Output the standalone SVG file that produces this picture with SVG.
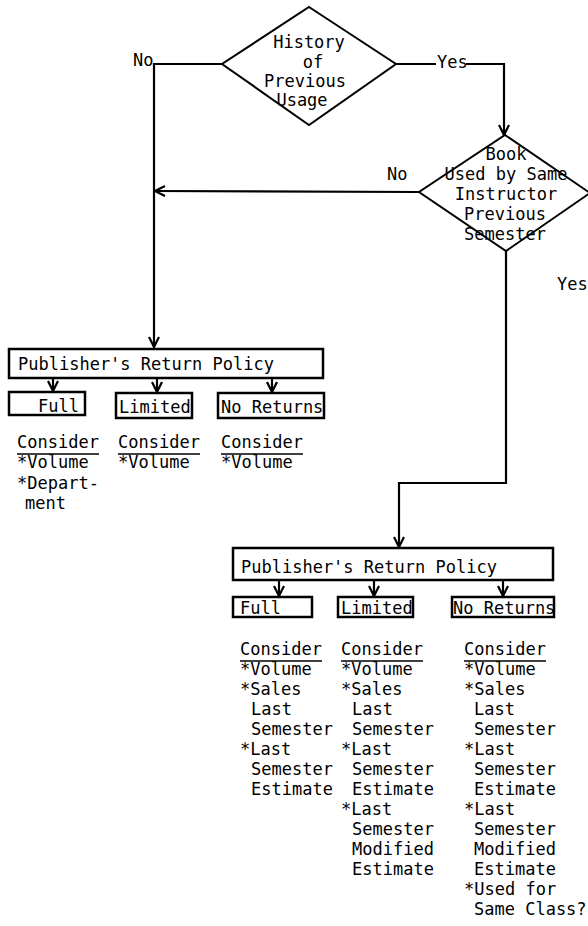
<svg xmlns="http://www.w3.org/2000/svg" width="588" height="926" viewBox="0 0 588 926">
<defs>
<marker id="arr" viewBox="0 0 12 12" refX="11" refY="6" markerWidth="12" markerHeight="12" markerUnits="userSpaceOnUse" orient="auto">
<path d="M1,1 L11,6 L1,11" fill="none" stroke="#000" stroke-width="2.2"/>
</marker>
<style>
text{font-family:"DejaVu Sans Mono","Liberation Mono",monospace;font-size:17px;fill:#000}
.mid{text-anchor:middle}
.dia{fill:#fff;stroke:#000;stroke-width:2}
.box{fill:#fff;stroke:#000;stroke-width:2.5}
.con{fill:none;stroke:#000;stroke-width:2.2}
.ul{stroke:#000;stroke-width:1.5}
</style>
</defs>
<rect width="588" height="926" fill="#fff"/>

<g id="connectors">
<path class="con" d="M222,64 L154,64 L154,347" marker-end="url(#arr)"/>
<path class="con" d="M396,64 L436,64 M466,64 L504,64 L504,135" marker-end="url(#arr)"/>
<path class="con" d="M419,192 L155,191" marker-end="url(#arr)"/>
<path class="con" d="M506,251 L506,483 L399,483 L399,547" marker-end="url(#arr)"/>
<path class="con" d="M53,378 L53,391" marker-end="url(#arr)"/>
<path class="con" d="M157,378 L157,392" marker-end="url(#arr)"/>
<path class="con" d="M272,378 L272,392" marker-end="url(#arr)"/>
<path class="con" d="M279,580 L279,596" marker-end="url(#arr)"/>
<path class="con" d="M374,580 L374,596" marker-end="url(#arr)"/>
<path class="con" d="M503,580 L503,596" marker-end="url(#arr)"/>
<text x="133" y="66">No</text>
<text x="437" y="68">Yes</text>
<text x="387" y="180">No</text>
<text x="557" y="290">Yes</text>
</g>

<g id="history">
<polygon class="dia" points="309,7 396,64 309,125 222,64"/>
<text class="mid" x="309" y="48">History</text>
<text class="mid" x="313" y="68">of</text>
<text class="mid" x="305" y="87">Previous</text>
<text class="mid" x="302" y="106">Usage</text>
</g>

<g id="sameInstructor">
<polygon class="dia" points="505,135 590,193 506,251 419,192"/>
<text class="mid" x="506" y="160">Book</text>
<text class="mid" x="506" y="180">Used by Same</text>
<text class="mid" x="506" y="200">Instructor</text>
<text class="mid" x="505" y="220">Previous</text>
<text class="mid" x="505" y="240">Semester</text>
</g>

<g id="policyLeft">
<rect class="box" x="9" y="349" width="314" height="29"/>
<text x="18" y="370">Publisher's Return Policy</text>
</g>
<g id="fullLeft">
<rect class="box" x="9" y="392" width="76" height="23"/>
<text x="38" y="412">Full</text>
</g>
<g id="limitedLeft">
<rect class="box" x="116" y="393" width="76" height="25"/>
<text x="119" y="413">Limited</text>
</g>
<g id="noReturnsLeft">
<rect class="box" x="218" y="393" width="106" height="25"/>
<text x="221" y="413">No Returns</text>
</g>

<g id="considerLeft">
<text x="17" y="448">Consider</text>
<line class="ul" x1="17" y1="454" x2="99" y2="454"/>
<text x="17" y="468">*Volume</text>
<text x="17" y="489">*Depart-</text>
<text x="25" y="509">ment</text>
<text x="118" y="448">Consider</text>
<line class="ul" x1="118" y1="454" x2="200" y2="454"/>
<text x="118" y="468">*Volume</text>
<text x="221" y="448">Consider</text>
<line class="ul" x1="221" y1="454" x2="303" y2="454"/>
<text x="221" y="468">*Volume</text>
</g>

<g id="policyBottom">
<rect class="box" x="233" y="548" width="320" height="32"/>
<text x="241" y="573">Publisher's Return Policy</text>
</g>
<g id="fullBottom">
<rect class="box" x="233" y="597" width="79" height="20"/>
<text x="240" y="614">Full</text>
</g>
<g id="limitedBottom">
<rect class="box" x="338" y="597" width="75" height="20"/>
<text x="341" y="614">Limited</text>
</g>
<g id="noReturnsBottom">
<rect class="box" x="452" y="597" width="102" height="20"/>
<text x="453" y="614">No Returns</text>
</g>

<g id="considerBottom">
<text x="240" y="655">Consider</text>
<line class="ul" x1="240" y1="661" x2="322" y2="661"/>
<text x="240" y="675">*Volume</text>
<text x="240" y="695">*Sales</text>
<text x="251" y="715">Last</text>
<text x="251" y="735">Semester</text>
<text x="240" y="755">*Last</text>
<text x="251" y="775">Semester</text>
<text x="251" y="795">Estimate</text>

<text x="341" y="655">Consider</text>
<line class="ul" x1="341" y1="661" x2="423" y2="661"/>
<text x="341" y="675">*Volume</text>
<text x="341" y="695">*Sales</text>
<text x="352" y="715">Last</text>
<text x="352" y="735">Semester</text>
<text x="341" y="755">*Last</text>
<text x="352" y="775">Semester</text>
<text x="352" y="795">Estimate</text>
<text x="341" y="815">*Last</text>
<text x="352" y="835">Semester</text>
<text x="352" y="855">Modified</text>
<text x="352" y="875">Estimate</text>

<text x="464" y="655">Consider</text>
<line class="ul" x1="464" y1="661" x2="546" y2="661"/>
<text x="464" y="675">*Volume</text>
<text x="464" y="695">*Sales</text>
<text x="474" y="715">Last</text>
<text x="474" y="735">Semester</text>
<text x="464" y="755">*Last</text>
<text x="474" y="775">Semester</text>
<text x="474" y="795">Estimate</text>
<text x="464" y="815">*Last</text>
<text x="474" y="835">Semester</text>
<text x="474" y="855">Modified</text>
<text x="474" y="875">Estimate</text>
<text x="464" y="895">*Used for</text>
<text x="474" y="915">Same Class?</text>
</g>
</svg>
